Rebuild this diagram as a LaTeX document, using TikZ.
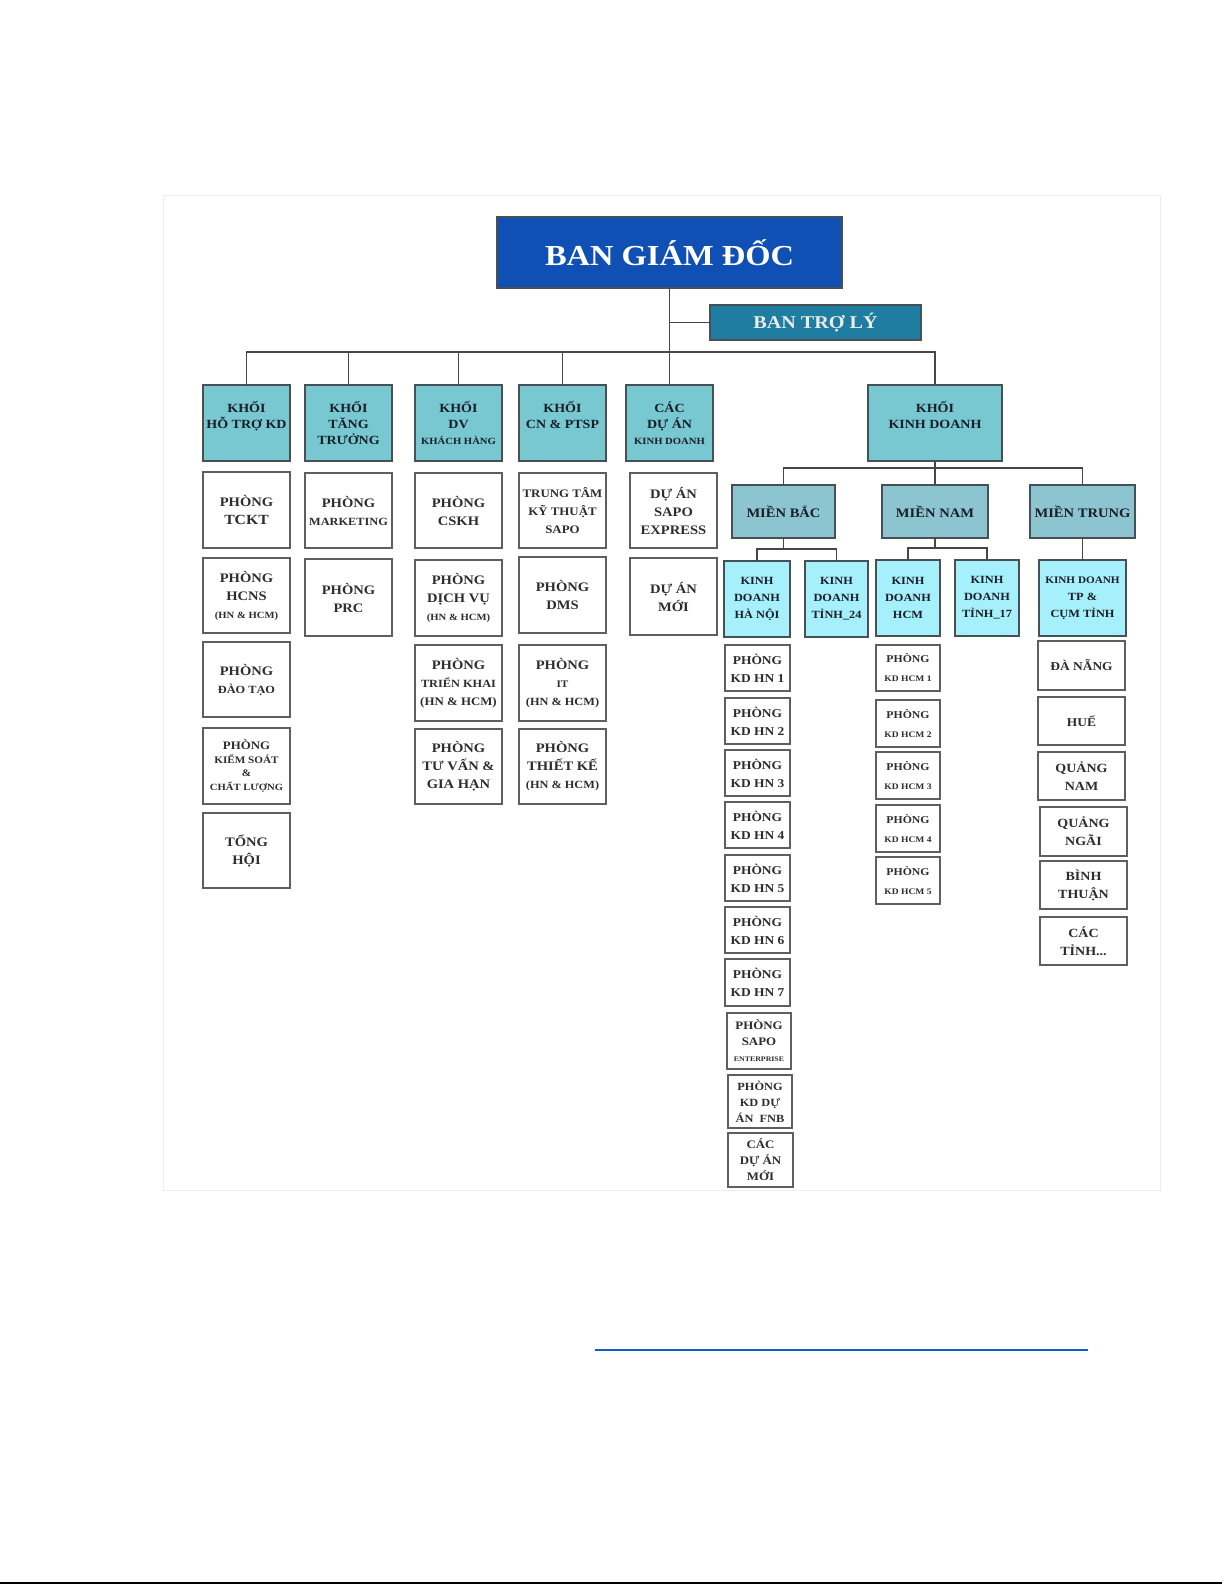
\documentclass[tikz,border=0pt]{standalone}
\usepackage{fontspec}
\setmainfont{Liberation Serif}[FakeStretch=1.12]
\newcommand\fz[2]{\fontsize{#1}{#2}\selectfont}
\definecolor{bgdblue}{RGB}{16,80,180}
\definecolor{btlblue}{RGB}{30,125,160}
\definecolor{khoifill}{RGB}{120,200,210}
\definecolor{mienfill}{RGB}{140,196,208}
\definecolor{subfill}{RGB}{165,240,250}
\definecolor{wline}{RGB}{95,95,95}
\definecolor{kline}{RGB}{70,80,85}
\definecolor{wtxt}{RGB}{45,45,45}
\definecolor{ktxt}{RGB}{25,30,40}
\definecolor{connc}{RGB}{70,70,70}
\definecolor{linkblue}{RGB}{16,96,200}
\newcommand\bx[7]{\node[#6, minimum width=#4pt-#2pt, minimum height=#5pt-#3pt] (#1) at ({(#2+#4)/2},{(#3+#5)/2}) {#7};}
\tikzset{
  every node/.style={inner sep=0pt, outer sep=0pt, align=center},
  base/.style={line width=1.3pt, font=\bfseries\fz{13}{18}},
  wbox/.style={base, draw=wline, fill=white, text=wtxt},
  kbox/.style={base, draw=kline, fill=khoifill, text=ktxt, font=\bfseries\fz{12.5}{16}},
  mbox/.style={base, draw=kline, fill=mienfill, text=ktxt, font=\bfseries\fz{13}{18}},
  sbox/.style={base, draw=kline, fill=subfill, text=ktxt, font=\bfseries\fz{11}{17}},
  hcmbox/.style={wbox, font=\bfseries\fz{10.5}{19}},
  conn/.style={line width=1.4pt, draw=connc},
}
\begin{document}
\begin{tikzpicture}[x=1pt,y=-1pt]
\useasboundingbox (0,0) rectangle (1225,1585);
% faint frame of the inserted picture
\draw[black!7, line width=0.8pt] (163,195) rectangle (1160,1190);
% top
\bx{bgd}{497}{217}{842}{288}{base, draw=kline, fill=bgdblue, text=white, font=\bfseries\fz{29}{32}}{BAN GIÁM ĐỐC}
\bx{btl}{710}{305}{921}{340}{base, draw=kline, fill=btlblue, text=white!92!black, font=\bfseries\fz{18}{20}}{BAN TRỢ LÝ}
% khoi
\bx{k1}{203}{385}{290}{461}{kbox}{KHỐI\\HỖ TRỢ KD\\~}
\bx{k2}{305}{385}{392}{461}{kbox}{KHỐI\\TĂNG\\TRƯỞNG}
\bx{k3}{415}{385}{502}{461}{kbox}{KHỐI\\DV\\{\fz{9.5}{16}KHÁCH HÀNG}}
\bx{k4}{519}{385}{606}{461}{kbox}{KHỐI\\CN \& PTSP\\~}
\bx{k5}{626}{385}{713}{461}{kbox}{CÁC\\DỰ ÁN\\{\fz{9.5}{16}KINH DOANH}}
\bx{kd}{868}{385}{1002}{461}{kbox}{KHỐI\\KINH DOANH\\~}
% column 1
\bx{c11}{203}{472}{290}{548}{wbox}{PHÒNG\\{\fz{14}{18}TCKT}}
\bx{c12}{203}{558}{290}{633}{wbox}{PHÒNG\\HCNS\\{\fz{9.5}{18}(HN \& HCM)}}
\bx{c13}{203}{642}{290}{717}{wbox}{PHÒNG\\{\fz{11}{18}ĐÀO TẠO}}
\bx{c14}{203}{728}{290}{804}{wbox, font=\bfseries\fz{11.5}{13.5}}{PHÒNG\\{\fz{10}{13.5}KIỂM SOÁT}\\{\fz{10}{13.5}\&}\\{\fz{9.5}{13.5}CHẤT LƯỢNG}}
\bx{c15}{203}{813}{290}{888}{wbox}{TỔNG\\HỘI}
% column 2
\bx{c21}{305}{473}{392}{548}{wbox}{PHÒNG\\{\fz{11}{18}MARKETING}}
\bx{c22}{305}{559}{392}{636}{wbox}{PHÒNG\\PRC}
% column 3
\bx{c31}{415}{473}{502}{548}{wbox}{PHÒNG\\CSKH}
\bx{c32}{415}{560}{502}{636}{wbox}{PHÒNG\\DỊCH VỤ\\{\fz{9.5}{18}(HN \& HCM)}}
\bx{c33}{415}{645}{502}{721}{wbox}{PHÒNG\\{\fz{11}{18}TRIỂN KHAI}\\{\fz{11.5}{18}(HN \& HCM)}}
\bx{c34}{415}{729}{502}{804}{wbox}{PHÒNG\\TƯ VẤN \&\\GIA HẠN}
% column 4
\bx{c41}{519}{473}{606}{548}{wbox, font=\bfseries\fz{11.5}{18}}{TRUNG TÂM\\KỸ THUẬT\\SAPO}
\bx{c42}{519}{557}{606}{633}{wbox}{PHÒNG\\DMS}
\bx{c43}{519}{645}{606}{721}{wbox}{PHÒNG\\{\fz{10}{18}IT}\\{\fz{11}{18}(HN \& HCM)}}
\bx{c44}{519}{729}{606}{804}{wbox}{PHÒNG\\THIẾT KẾ\\{\fz{11}{18}(HN \& HCM)}}
% column 5
\bx{c51}{630}{473}{717}{548}{wbox}{DỰ ÁN\\SAPO\\EXPRESS}
\bx{c52}{630}{558}{717}{635}{wbox}{DỰ ÁN\\MỚI}
% mien
\bx{mb}{732}{485}{835}{538}{mbox}{MIỀN BẮC}
\bx{mn}{882}{485}{988}{538}{mbox}{MIỀN NAM}
\bx{mt}{1030}{485}{1135}{538}{mbox}{MIỀN TRUNG}
% sub
\bx{hn}{724}{561}{790}{637}{sbox}{KINH\\DOANH\\HÀ NỘI}
\bx{t24}{805}{561}{868}{637}{sbox}{KINH\\DOANH\\TỈNH\_24}
\bx{hcm}{876}{560}{940}{636}{sbox}{KINH\\DOANH\\HCM}
\bx{t17}{955}{560}{1019}{636}{sbox}{KINH\\DOANH\\TỈNH\_17}
\bx{tp}{1039}{560}{1126}{636}{sbox}{{\fz{10}{17}KINH DOANH}\\TP \&\\CỤM TỈNH}
% Ha Noi column
\bx{hn1}{725}{645}{790}{691}{wbox, font=\bfseries\fz{12}{18}}{PHÒNG\\KD HN 1}
\bx{hn2}{725}{698}{790}{744}{wbox, font=\bfseries\fz{12}{18}}{PHÒNG\\KD HN 2}
\bx{hn3}{725}{750}{790}{796}{wbox, font=\bfseries\fz{12}{18}}{PHÒNG\\KD HN 3}
\bx{hn4}{725}{802}{790}{848}{wbox, font=\bfseries\fz{12}{18}}{PHÒNG\\KD HN 4}
\bx{hn5}{725}{855}{790}{901}{wbox, font=\bfseries\fz{12}{18}}{PHÒNG\\KD HN 5}
\bx{hn6}{725}{907}{790}{953}{wbox, font=\bfseries\fz{12}{18}}{PHÒNG\\KD HN 6}
\bx{hn7}{725}{959}{790}{1006}{wbox, font=\bfseries\fz{12}{18}}{PHÒNG\\KD HN 7}
\bx{hn8}{727}{1013}{791}{1069}{wbox, font=\bfseries\fz{11.5}{16}}{PHÒNG\\SAPO\\{\fz{7}{16}ENTERPRISE}}
\bx{hn9}{728}{1075}{792}{1128}{wbox, font=\bfseries\fz{11}{16}}{PHÒNG\\KD DỰ\\ÁN~ FNB}
\bx{hn10}{728}{1133}{793}{1187}{wbox, font=\bfseries\fz{11.5}{16}}{CÁC\\DỰ ÁN\\MỚI}
% HCM column
\bx{hcm1}{876}{645}{940}{691}{hcmbox}{PHÒNG\\{\fz{8.5}{19}KD HCM 1}}
\bx{hcm2}{876}{700}{940}{747}{hcmbox}{PHÒNG\\{\fz{8.5}{19}KD HCM 2}}
\bx{hcm3}{876}{752}{940}{799}{hcmbox}{PHÒNG\\{\fz{8.5}{19}KD HCM 3}}
\bx{hcm4}{876}{805}{940}{852}{hcmbox}{PHÒNG\\{\fz{8.5}{19}KD HCM 4}}
\bx{hcm5}{876}{857}{940}{904}{hcmbox}{PHÒNG\\{\fz{8.5}{19}KD HCM 5}}
% Mien Trung column
\bx{mt1}{1038}{641}{1125}{690}{wbox, font=\bfseries\fz{12}{18}}{ĐÀ NẴNG}
\bx{mt2}{1038}{697}{1125}{745}{wbox, font=\bfseries\fz{12}{18}}{HUẾ}
\bx{mt3}{1038}{752}{1125}{800}{wbox, font=\bfseries\fz{12.5}{18}}{QUẢNG\\NAM}
\bx{mt4}{1040}{807}{1127}{856}{wbox, font=\bfseries\fz{12.5}{18}}{QUẢNG\\NGÃI}
\bx{mt5}{1040}{861}{1127}{909}{wbox, font=\bfseries\fz{12.5}{18}}{BÌNH\\THUẬN}
\bx{mt6}{1040}{917}{1127}{965}{wbox, font=\bfseries\fz{12.5}{18}}{CÁC\\TỈNH...}
% connectors
\coordinate (bus) at (669.5,352);
\draw[conn] (bgd.south) -- (k5.north);
\draw[conn] (bgd.south |- btl.west) -- (btl.west);
\draw[conn] (k1.north) -- (k1.north |- bus) -- (kd.north |- bus) -- (kd.north);
\foreach \k in {k2,k3,k4} \draw[conn] (\k.north) -- (\k.north |- bus);
\coordinate (kdbus) at (935,468);
\draw[conn] (kd.south) -- (mn.north);
\draw[conn] (mb.north) -- (mb.north |- kdbus) -- (mt.north |- kdbus) -- (mt.north);
\coordinate (mbbus) at (783.5,549);
\draw[conn] (mb.south) -- (mb.south |- mbbus);
\draw[conn] (hn.north) -- (hn.north |- mbbus) -- (t24.north |- mbbus) -- (t24.north);
\coordinate (mnbus) at (935,548);
\draw[conn] (mn.south) -- (mn.south |- mnbus);
\draw[conn] (hcm.north) -- (hcm.north |- mnbus) -- (t17.north |- mnbus) -- (t17.north);
\draw[conn] (mt.south) -- (tp.north);
% page decorations
\draw[linkblue, line width=1.8pt] (595,1350) -- (1088,1350);
\draw[black, line width=1.5pt] (0,1583) -- (1222,1583);
\end{tikzpicture}
\end{document}
